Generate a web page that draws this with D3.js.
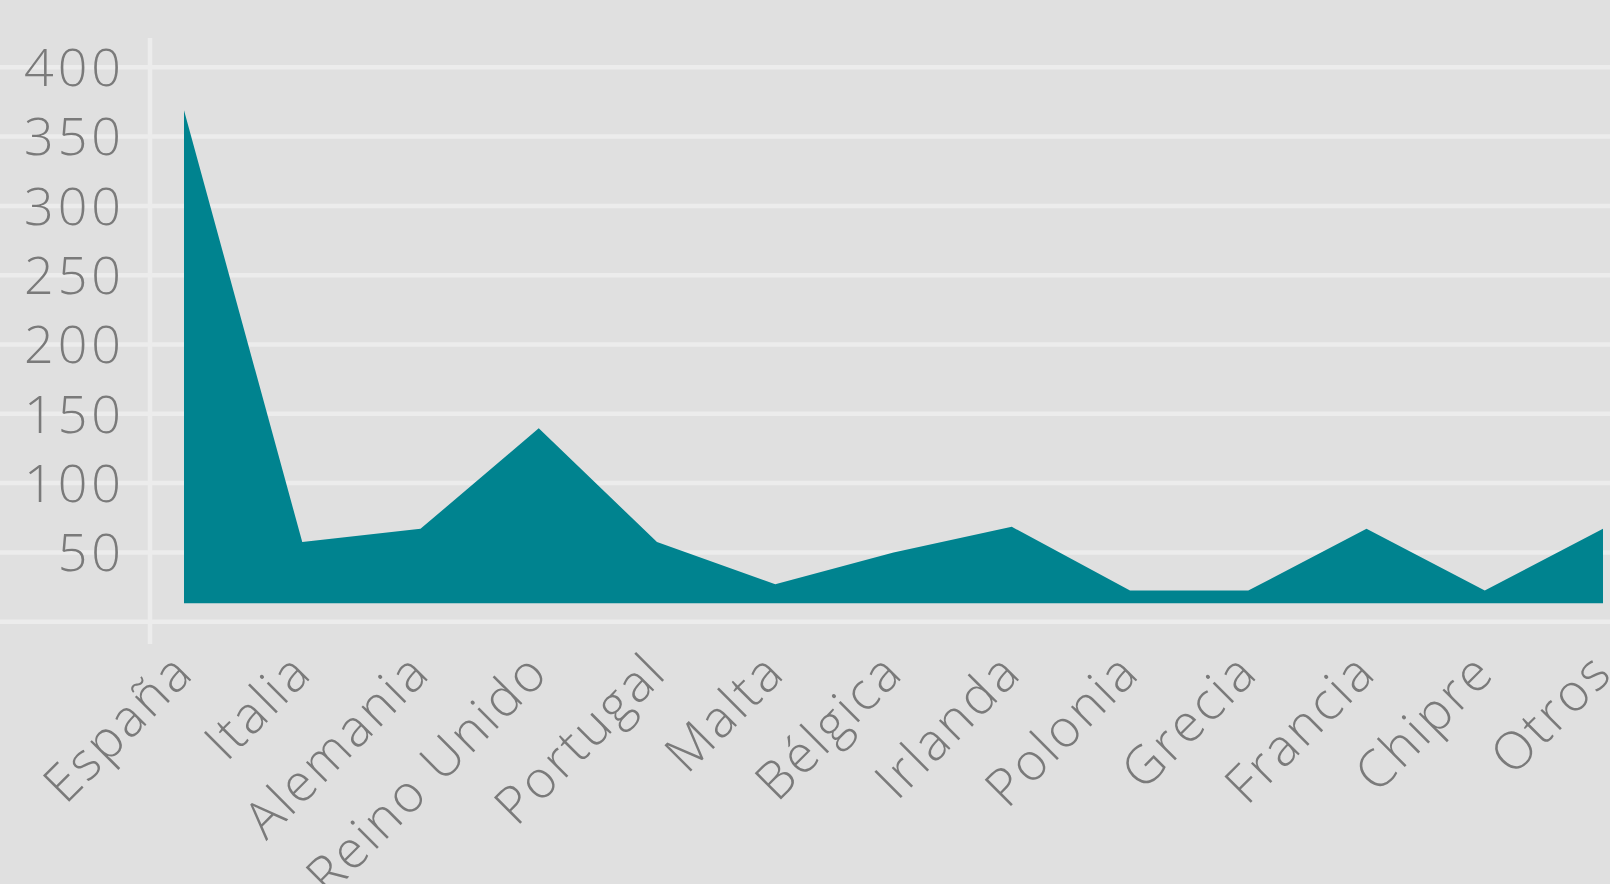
<!DOCTYPE html>
<html>
<head>
<meta charset="utf-8">
<script src="https://cdn.jsdelivr.net/npm/d3@7/dist/d3.min.js"></script>
<style>
  html, body { margin: 0; padding: 0; background: #e0e0e0; overflow: hidden; }
  svg { display: block; }
  text { font-family: "Open Sans", "Lato", sans-serif; font-weight: 300; fill: #7a7a7a; }
</style>
</head>
<body>
<svg id="chart" width="1610" height="884"></svg>
<script>
// ---- data ----
const categories = ["España", "Italia", "Alemania", "Reino Unido", "Portugal", "Malta",
  "Bélgica", "Irlanda", "Polonia", "Grecia", "Francia", "Chipre", "Otros"];
const values = [369, 57.5, 67, 139.5, 57.5, 27, 50, 68.5, 22.5, 22.5, 67, 22.5, 67];
const baselineValue = 13.3;
const yTicks = [0, 50, 100, 150, 200, 250, 300, 350, 400];
const yTickLabels = ["", "50", "100", "150", "200", "250", "300", "350", "400"];

// ---- layout ----
const W = 1610, H = 884;
const svg = d3.select("#chart");
svg.append("rect").attr("width", W).attr("height", H).attr("fill", "#e0e0e0");

const x = d3.scalePoint().domain(categories).range([184, 1603]);
const y = d3.scaleLinear().domain([0, 400]).range([621.7, 67.3]);

const gridColor = "#ececec";

// gridlines
svg.append("g").selectAll("line").data(yTicks).join("line")
  .attr("x1", 0).attr("x2", W)
  .attr("y1", d => y(d)).attr("y2", d => y(d))
  .attr("stroke", gridColor).attr("stroke-width", 4.5);

// vertical axis line
svg.append("line")
  .attr("x1", 150).attr("x2", 150)
  .attr("y1", 38).attr("y2", 644)
  .attr("stroke", gridColor).attr("stroke-width", 4.5);

// area
const data = categories.map((c, i) => ({ c, v: values[i] }));
const area = d3.area()
  .x(d => x(d.c))
  .y0(y(baselineValue))
  .y1(d => y(d.v));
svg.append("path").datum(data).attr("d", area).attr("fill", "#00838f");

// y tick labels
const tickSpacing = 4;
svg.append("g").selectAll("text").data(yTicks).join("text")
  .attr("x", 121 + tickSpacing)
  .attr("y", d => y(d))
  .attr("dy", "0.36em")
  .attr("text-anchor", "end")
  .attr("font-size", 52)
  .style("letter-spacing", tickSpacing + "px")
  .text((d, i) => yTickLabels[i]);

// x labels
const labelSpacing = 2.5;
svg.append("g").selectAll("text").data(categories).join("text")
  .attr("transform", d => `translate(${x(d) + 12},675) rotate(-45)`)
  .attr("text-anchor", "end")
  .attr("font-size", 52)
  .style("letter-spacing", labelSpacing + "px")
  .text(d => d);
</script>
</body>
</html>
